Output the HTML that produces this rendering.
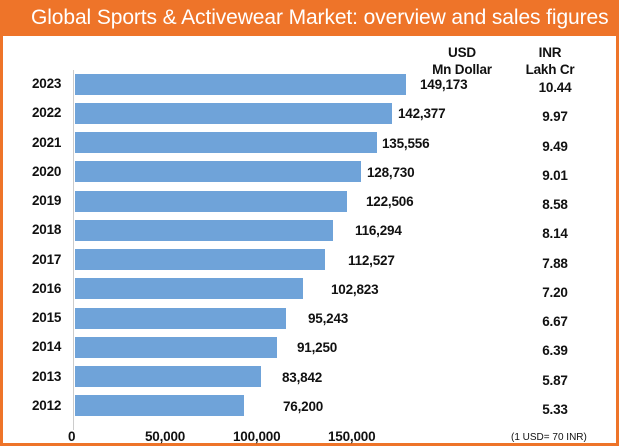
<!DOCTYPE html>
<html><head><style>
body{margin:0;width:619px;height:446px;overflow:hidden;background:#fff;font-family:"Liberation Sans",Arial,sans-serif}
.frame{position:absolute;left:0;top:0;width:613px;height:443px;border:3px solid #ee7429;border-top:none;background:#fff}
.hdr{position:absolute;left:0;top:0;width:619px;height:36px;background:#ee7429;color:#fff;font-size:21px;line-height:36px;white-space:nowrap}
.hdr span{position:absolute;left:31px;top:0;letter-spacing:-0.1px}
.t{position:absolute;font-weight:bold;font-size:13.5px;color:#111;white-space:nowrap;letter-spacing:-0.2px}
.bar{position:absolute;left:75px;height:21px;background:#6fa3d9}
</style></head><body>
<div class="frame"></div>
<div class="hdr"><span>Global Sports &amp; Activewear Market: overview and sales figures</span></div>
<div class="t" style="left:422px;top:44px;text-align:center;width:80px;line-height:17px">USD</div>
<div class="t" style="left:422px;top:61px;text-align:center;width:80px;line-height:17px">Mn Dollar</div>
<div class="t" style="left:515px;top:44px;text-align:center;width:70px;line-height:17px">INR</div>
<div class="t" style="left:515px;top:61px;text-align:center;width:70px;line-height:17px">Lakh Cr</div>
<div style="position:absolute;left:73px;top:70px;width:1px;height:360px;background:#ccc"></div>
<div id="rows"></div>
<div class="t" style="left:68px;top:429px">0</div>
<div class="t" style="left:145px;top:429px">50,000</div>
<div class="t" style="left:233px;top:429px">100,000</div>
<div class="t" style="left:328px;top:429px">150,000</div>
<div style="position:absolute;left:511px;top:432px;font-size:10px;color:#111">(1 USD= 70 INR)</div>
<script>
var d=[["2023",406,"149,173",420,"10.44"],["2022",392,"142,377",398,"9.97"],["2021",377,"135,556",382,"9.49"],["2020",361,"128,730",367,"9.01"],["2019",347,"122,506",366,"8.58"],["2018",333,"116,294",355,"8.14"],["2017",325,"112,527",348,"7.88"],["2016",303,"102,823",331,"7.20"],["2015",286,"95,243",308,"6.67"],["2014",277,"91,250",297,"6.39"],["2013",261,"83,842",282,"5.87"],["2012",244,"76,200",283,"5.33"]];
var h="";d.forEach(function(r,i){var c=84+i*29.27;
h+='<div class="t" style="left:32px;top:'+(c-8)+'px">'+r[0]+'</div>';
h+='<div class="bar" style="top:'+(c-10.5)+'px;width:'+(r[1]-75)+'px"></div>';
h+='<div class="t" style="left:'+r[3]+'px;top:'+(c-7)+'px">'+r[2]+'</div>';
h+='<div class="t" style="left:530px;top:'+(c-4)+'px;width:50px;text-align:center">'+r[4]+'</div>';});
document.getElementById("rows").innerHTML=h;
</script>
</body></html>
